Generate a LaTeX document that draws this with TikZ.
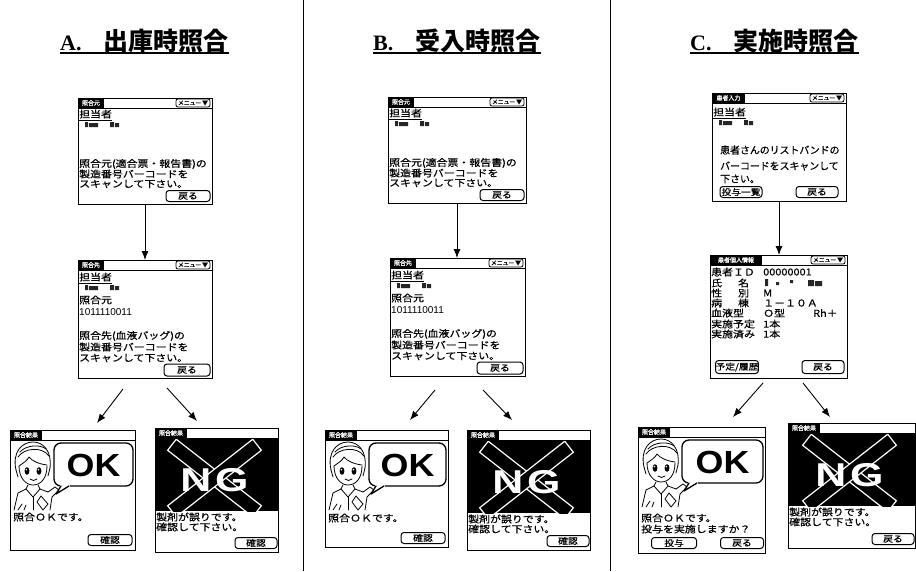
\documentclass[tikz,border=0pt]{standalone}
\usepackage{fontspec}
\setmainfont{Liberation Serif}
\newfontfamily\jp{Noto Sans CJK JP}
\newfontfamily\jpw{Noto Sans CJK JP}[FakeStretch=1.15, FakeBold=0.6]
\newfontfamily\jpb{Noto Sans CJK JP}[FakeBold=0.6]
\newfontfamily\lsans{Liberation Sans}
\usetikzlibrary{arrows.meta,calc}

\tikzset{
  screenbox/.style={draw=black, line width=1pt, fill=white, inner sep=0pt, outer sep=0pt, anchor=north west},
  barlabel/.style={fill=black, text=white, inner sep=0pt, outer sep=0pt, anchor=north west, minimum height=10pt, font=\jpb\fontsize{6}{6}\selectfont},
  menubtn/.style={draw, rounded corners=2pt, line width=.8pt, inner sep=0pt, minimum height=8pt, minimum width=34pt, font=\jpb\fontsize{5.8}{6}\selectfont},
  btn/.style={draw, rounded corners=3pt, line width=1pt, inner sep=0pt, minimum height=11pt, font=\jpw\fontsize{8.5}{9}\selectfont},
  txt/.style={anchor=west, inner sep=0pt, font=\jpw\fontsize{9.5}{10}\selectfont},
  flow/.style={line width=.9pt, -{Latex[length=9pt,width=7pt]}},
  divider/.style={line width=.7pt},
  heading/.style={anchor=base west, inner sep=0pt},
  headrule/.style={line width=1.8pt},
  bubble/.style={draw, line width=1.3pt, rounded corners=7pt, fill=white},
  strokes/.style={line width=.8pt, line cap=round, line join=round},
  bigok/.style={inner sep=0pt, font=\lsans\bfseries\fontsize{32}{32}\selectfont},
  bigng/.style={inner sep=0pt, text=white, font=\lsans\bfseries\fontsize{33}{33}\selectfont},
  crossbar/.style={draw=white, fill=black, line width=1.2pt},
}

\newcommand\headtext[2]{{\fontsize{22}{24}\selectfont\bfseries #1}\hspace{22pt}{\jp\fontsize{25}{27}\selectfont\bfseries #2}}

% title bar of a screen: name, width, caption, caption width
\newcommand\titlebar[4]{%
  \draw[line width=.8pt] (0,10) -- (#2,10);
  \node[barlabel, minimum width=#4pt] (#1cap) at (0,0) {#3};}
\newcommand\menubutton[2]{%
  \node[menubtn] (#1menu) at (#2-19,5) {メニュー\,▼};}
% operator caption and name marks
\newcommand\staffblock[2]{%
  \node[txt] (#1staff) at (1,#2) {\underline{担当者}};
  \fill[black!85] (7,#2+7) rectangle (10,#2+12) (11,#2+8) rectangle (20,#2+12);
  \fill[black!85] (32,#2+7) rectangle (36,#2+12) (37,#2+8) rectangle (41,#2+12);}

% screen asking for the source label
\newcommand\srcscreen[4]{%
  \node[screenbox, minimum width=#4pt, minimum height=106pt] (#1) at (#2,#3) {};
  \begin{scope}[shift={(#1.north west)}]
    \titlebar{#1}{#4}{照合元}{26}
    \menubutton{#1}{#4}
    \staffblock{#1}{17}
    \node[txt] (#1la) at (1,66) {照合元(適合票・報告書)の};
    \node[txt] (#1lb) at (1,76) {製造番号バーコードを};
    \node[txt] (#1lc) at (1,86) {スキャンして下さい。};
    \node[btn, minimum width=44pt] (#1back) at (#4-24,98) {戻る};
  \end{scope}}

% screen asking for the blood bag label
\newcommand\dstscreen[4]{%
  \node[screenbox, minimum width=#4pt, minimum height=118pt] (#1) at (#2,#3) {};
  \begin{scope}[shift={(#1.north west)}]
    \titlebar{#1}{#4}{照合先}{26}
    \menubutton{#1}{#4}
    \staffblock{#1}{18}
    \node[txt] (#1src) at (1,40) {照合元};
    \node[txt, font=\lsans\fontsize{10}{11}\selectfont] (#1num) at (1,52) {1011110011};
    \node[txt] (#1la) at (1,76) {照合先(血液バッグ)の};
    \node[txt] (#1lb) at (1,87) {製造番号バーコードを};
    \node[txt] (#1lc) at (1,98) {スキャンして下さい。};
    \node[btn, minimum width=46pt, minimum height=12pt] (#1back) at (#4-25,110) {戻る};
  \end{scope}}

% nurse holding a blood bag
\newcommand\nurse{%
  \draw[strokes] (6,40) .. controls (2,22) and (12,12) .. (23,12) .. controls (34,12) and (42,22) .. (40,38);
  \draw[strokes] (8,27) .. controls (14,18) and (32,16) .. (39,26);
  \draw[strokes] (10,22) .. controls (16,15) and (30,14) .. (36,19);
  \draw[strokes] (9,36) .. controls (9,48) and (16,55) .. (23,55) .. controls (31,55) and (37,48) .. (37,36);
  \draw[strokes] (9,36) .. controls (13,33) and (17,31) .. (19,27) .. controls (22,31) and (29,34) .. (37,35);
  \draw[strokes] (6,40) -- (8,47) (40,38) -- (38,46);
  \fill (17,41) ellipse [x radius=2.4pt, y radius=3.8pt];
  \fill (29,41) ellipse [x radius=2.4pt, y radius=3.8pt];
  \fill[white] (16.4,39.6) circle (.9pt) (28.4,39.6) circle (.9pt);
  \draw[strokes] (20,49) .. controls (22,51) and (25,51) .. (27,49);
  \draw[strokes] (18,55) -- (16,59) -- (8,63) -- (4,80);
  \draw[strokes] (28,55) -- (30,59) -- (38,62);
  \draw[strokes] (16,59) -- (23,67) -- (30,59);
  \draw[strokes] (23,67) -- (23,80);
  \draw[strokes] (38,62) -- (45,57) -- (49,60) -- (42,67) -- (40,80);
  \draw[strokes] (31,66) -- (38,74) -- (33,80) -- (27,72) -- cycle;
  \draw[strokes] (8,80) -- (12,74) (14,80) -- (16,75);}

% result screen with the OK balloon
\newcommand\okscreen[5]{%
  \node[screenbox, minimum width=#4pt, minimum height=#5pt] (#1) at (#2,#3) {};
  \begin{scope}[shift={(#1.north west)}]
    \titlebar{#1}{#4}{照合結果}{32}
    \nurse
    \draw[bubble] (44,13) rectangle (#4-2,56);
    \fill[white] (50,54.4) rectangle (60,57.6);
    \fill[white] (51,56) -- (46,64) -- (59,56) -- cycle;
    \draw[strokes, line width=1.3pt] (51,56) -- (46,64) -- (59,56);
    \node[bigok] (#1ok) at (#4/2+21,35) {\scalebox{1.12}[1]{OK}};
  \end{scope}}

% result screen with the crossed NG mark
\newcommand\ngscreen[6]{%
  \node[screenbox, minimum width=#4pt, minimum height=#5pt] (#1) at (#2,#3) {};
  \begin{scope}[shift={(#1.north west)}]
    \fill (0,10) rectangle (#4,83);
    \begin{scope}
      \clip (0,10) rectangle (#4,83);
      \draw[crossbar, rotate around={-38:(#4/2-2,50)}] (#4/2-56,43) rectangle (#4/2+52,57);
      \draw[crossbar, rotate around={38:(#4/2-2,50)}] (#4/2-56,43) rectangle (#4/2+52,57);
    \end{scope}
    \titlebar{#1}{#4}{照合結果}{32}
    \node[bigng] (#1ng) at (#4/2-2,52) {\scalebox{1.3}[1]{N\kern3pt G}};
    \node[txt] (#1la) at (1,89) {製剤が誤りです。};
    \node[txt] (#1lb) at (1,99) {確認して下さい。};
    \node[btn, minimum width=42pt] (#1btn) at (#4-22,#5-9) {#6};
  \end{scope}}

\begin{document}
\begin{tikzpicture}[x=1pt,y=-1pt]
\useasboundingbox[fill=white] (0,0) rectangle (916,571);

% column dividers
\draw[divider] (303,0) -- (303,571);
\draw[divider] (610,0) -- (610,571);

% headings
\node[heading] (ha) at (60,50) {\headtext{A.}{出庫時照合}};
\node[heading] (hb) at (373,50) {\headtext{B.}{受入時照合}};
\node[heading] (hc) at (690,50) {\headtext{C.}{実施時照合}};
\draw[headrule] ([yshift=-3pt]ha.base west) -- ([yshift=-3pt]ha.base east);
\draw[headrule] ([yshift=-3pt]hb.base west) -- ([yshift=-3pt]hb.base east);
\draw[headrule] ([yshift=-3pt]hc.base west) -- ([yshift=-3pt]hc.base east);

% column A
\srcscreen{a1}{78}{98}{134}
\dstscreen{a2}{78}{260}{134}
\okscreen{aok}{10}{430}{125}{120}
\begin{scope}[shift={(aok.north west)}]
  \node[txt] (aokmsg) at (3,87) {照合ＯＫです。};
  \node[btn, minimum width=44pt] (aokbtn) at (100,110) {確認};
\end{scope}
\ngscreen{ang}{155}{428}{123}{124}{確認}

% column B
\srcscreen{b1}{388}{97}{138}
\dstscreen{b2}{390}{258}{135}
\okscreen{bok}{325}{430}{123}{117}
\begin{scope}[shift={(bok.north west)}]
  \node[txt] (bokmsg) at (3,88) {照合ＯＫです。};
  \node[btn, minimum width=44pt] (bokbtn) at (98,108) {確認};
\end{scope}
\ngscreen{bng}{467}{430}{123}{120}{確認}

% column C
\node[screenbox, minimum width=134pt, minimum height=108pt] (c1) at (712,93) {};
\begin{scope}[shift={(c1.north west)}]
  \titlebar{c1}{134}{患者入力}{33}
  \menubutton{c1}{134}
  \staffblock{c1}{20}
  \node[txt, font=\jpb\fontsize{9.9}{10}\selectfont] (c1la) at (8,57) {患者さんのリストバンドの};
  \node[txt, font=\jpb\fontsize{9.9}{10}\selectfont] (c1lb) at (8,73) {バーコードをスキャンして};
  \node[txt, font=\jpb\fontsize{9.9}{10}\selectfont] (c1lc) at (8,86) {下さい。};
  \node[btn, minimum width=42pt] (c1list) at (29,99) {投与一覧};
  \node[btn, minimum width=42pt] (c1back) at (105,99) {戻る};
\end{scope}

\node[screenbox, minimum width=137pt, minimum height=123pt] (c2) at (710,255) {};
\begin{scope}[shift={(c2.north west)}]
  \titlebar{c2}{137}{患者個人情報}{52}
  \menubutton{c2}{137}
  \node[txt] (c2k1) at (1,17) {患者ＩＤ};
  \node[txt] (c2k2) at (1,28) {氏\hspace{16pt}名};
  \node[txt] (c2k3) at (1,38) {性\hspace{16pt}別};
  \node[txt] (c2k4) at (1,48) {病\hspace{16pt}棟};
  \node[txt] (c2k5) at (1,58) {血液型};
  \node[txt] (c2k6) at (1,69) {実施予定};
  \node[txt] (c2k7) at (1,79) {実施済み};
  \node[txt] (c2v1) at (53,17) {00000001};
  \fill[black!85] (55,24) rectangle (58,31) (66,27) rectangle (69,30) (80,25) rectangle (83,28) (98,25) rectangle (104,31) (105,26) rectangle (112,31);
  \node[txt] (c2v3) at (53,38) {M};
  \node[txt] (c2v4) at (53,48) {１－１０Ａ};
  \node[txt] (c2v5) at (53,58) {Ｏ型};
  \node[txt] (c2v5b) at (103,58) {Rh＋};
  \node[txt] (c2v6) at (53,69) {1本};
  \node[txt] (c2v7) at (53,79) {1本};
  \node[btn, minimum width=40pt, minimum height=13pt] (c2hist) at (27,112) {予定/履歴};
  \node[btn, minimum width=42pt, minimum height=13pt] (c2back) at (113,112) {戻る};
\end{scope}

\okscreen{cok}{638}{427}{127}{126}
\begin{scope}[shift={(cok.north west)}]
  \node[txt] (cokmsg) at (3,91) {照合ＯＫです。};
  \node[txt] (cokask) at (3,102) {投与を実施しますか？};
  \node[btn, minimum width=45pt] (cokgive) at (36,116) {投与};
  \node[btn, minimum width=43pt] (cokback) at (104,116) {戻る};
\end{scope}
\ngscreen{cng}{788}{423}{127}{125}{戻る}

% flow between screens
\draw[flow] (a1.south) -- (a1.south |- a2.north);
\draw[flow] (b1.south) -- (b1.south |- b2.north);
\draw[flow] (c1.south) -- (c1.south |- c2.north);

\coordinate (aokfrom) at (123,389);
\coordinate (aokto) at (97,423);
\coordinate (angfrom) at (167,388);
\coordinate (angto) at (197,421);
\coordinate (bokfrom) at (435,390);
\coordinate (bokto) at (410,420);
\coordinate (bngfrom) at (483,390);
\coordinate (bngto) at (512,420);
\coordinate (cokfrom) at (763,383);
\coordinate (cokto) at (733,417);
\coordinate (cngfrom) at (803,383);
\coordinate (cngto) at (830,417);
\draw[flow] (aokfrom) -- (aokto);
\draw[flow] (angfrom) -- (angto);
\draw[flow] (bokfrom) -- (bokto);
\draw[flow] (bngfrom) -- (bngto);
\draw[flow] (cokfrom) -- (cokto);
\draw[flow] (cngfrom) -- (cngto);
\end{tikzpicture}
\end{document}
